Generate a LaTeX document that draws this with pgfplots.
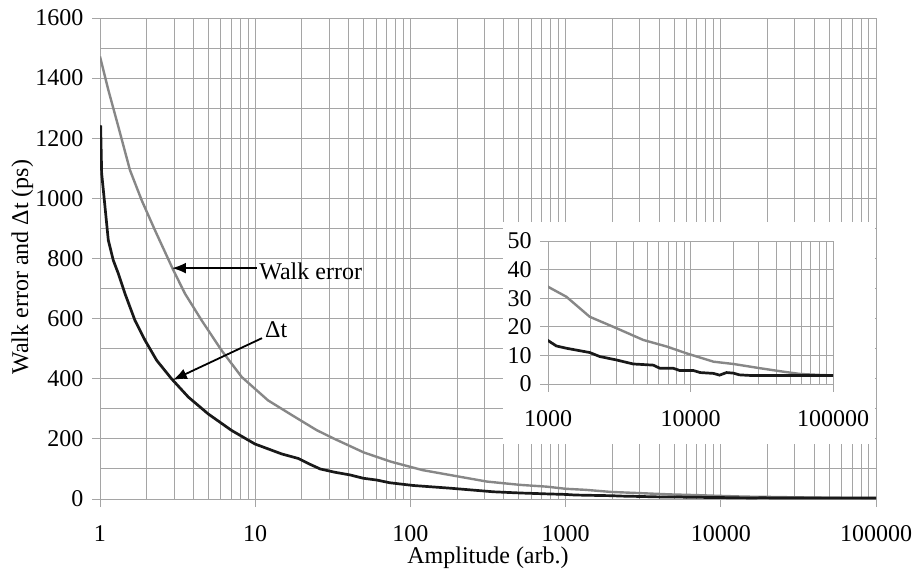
\documentclass[border=0pt]{standalone}
\usepackage{fontspec}
\setmainfont{Liberation Serif}
\usepackage{pgfplots}
\usepackage{pgfplotstable}
\pgfplotsset{compat=1.18}
\usetikzlibrary{arrows.meta}

\definecolor{gridgray}{RGB}{165,165,165}
\definecolor{walkgray}{RGB}{135,135,135}
\definecolor{dtblack}{RGB}{25,25,25}

% Walk error (ps) versus pulse amplitude
\pgfplotstableread{
amp val
1 1472
1.131 1361
1.312 1239
1.56 1094
1.855 994
2.26 894
2.97 761
3.53 683
4.52 594
6.08 494
8.18 406
12.1 328
17.5 277
24.9 229
31.8 202
50 155
75 124
120 96
208 74
311 58
509 47
758 41
1000 34
1346 30.5
1963 23.5
3027 19.5
4658 15.4
6808 13.1
9400 10.7
14500 7.8
20000 7.0
30900 5.5
44900 4.3
58900 3.5
86000 3.1
100000 3.0
}\walkdata

% Delta t (ps) versus pulse amplitude
\pgfplotstableread{
amp val
1 1240
1.01 1239
1.025 1083
1.077 972
1.131 861
1.218 794
1.312 750
1.449 683
1.68 594
1.95 528
2.32 461
2.89 400
3.71 339
4.98 283
7.05 228
9.96 183
14.8 150
18.9 135
22 118
26.2 100
32.6 89
40.9 80
49.7 69
60.8 63
73.7 54
104 45
180 36
342 24
509 20
758 17
1000 15.2
1144 13.3
1346 12.5
1963 11.0
2307 9.6
3027 8.4
3960 7.0
5475 6.6
6100 5.5
7570 5.5
8417 4.7
10500 4.7
11700 4.0
14500 3.7
16000 3.1
17900 4.0
20000 3.8
22000 3.2
26000 3.0
100000 3.0
}\dtdata

\begin{document}
\begin{tikzpicture}
\path[use as bounding box] (0,0) rectangle (919pt,571pt);

\begin{axis}[
  scale only axis,
  xmode=log,
  at={(100pt,72pt)}, anchor=south west,
  width=776pt, height=481pt,
  xmin=1, xmax=100000,
  ymin=0, ymax=1600,
  grid=both,
  major grid style={gridgray, line width=0.9pt},
  minor grid style={gridgray, line width=0.9pt},
  axis line style={gridgray, line width=0.9pt},
  tick style={gridgray, line width=0.9pt},
  tick align=outside,
  major tick length=8pt,
  minor tick length=0pt,
  xtick pos=bottom,
  ytick pos=left,
  xtick={1,10,100,1000,10000,100000},
  xticklabels={1,10,100,1000,10000,100000},
  ytick={0,200,400,600,800,1000,1200,1400,1600},
  yticklabels={0,200,400,600,800,1000,1200,1400,1600},
  minor ytick={100,300,500,700,900,1100,1300,1500},
  tick label style={font=\fontsize{24}{28}\selectfont, text=black},
  xticklabel style={yshift=-15pt},
  yticklabel style={xshift=-5pt},
  xlabel={Amplitude (arb.)},
  ylabel={Walk error and Δt (ps)},
  label style={font=\fontsize{24}{28}\selectfont},
  xlabel style={at={(axis description cs:0.5,-0.123)}, anchor=center},
  ylabel style={at={(axis description cs:-0.100,0.482)}, anchor=center},
]
\addplot[walkgray, line width=2.4pt] table[x=amp, y=val] {\walkdata};
\addplot[dtblack, line width=2.7pt] table[x=amp, y=val] {\dtdata};

% white backdrop for the zoomed inset
\fill[white] (rel axis cs:0.5193,0.1143) rectangle (rel axis cs:0.9985,0.5759);

% annotations
\draw[black, line width=1.8pt, -{Latex[length=14pt,width=11pt]}]
  (axis cs:10.27,768) -- (axis cs:2.91,768);
\node[anchor=west, font=\fontsize{24}{28}\selectfont, inner sep=0pt]
  at (axis cs:10.6,758) {Walk error};
\draw[black, line width=1.8pt, -{Latex[length=14pt,width=11pt]}]
  (axis cs:11.06,535) -- (axis cs:2.95,396);
\node[anchor=west, font=\fontsize{24}{28}\selectfont, inner sep=0pt]
  at (axis cs:11.57,562) {Δt};
\end{axis}

\begin{axis}[
  scale only axis,
  xmode=log,
  at={(548pt,187pt)}, anchor=south west,
  width=285pt, height=143pt,
  xmin=1000, xmax=100000,
  ymin=0, ymax=50,
  xminorgrids=true, xmajorgrids=true, ymajorgrids=true,
  major grid style={gridgray, line width=0.9pt},
  minor grid style={gridgray, line width=0.9pt},
  axis line style={gridgray, line width=0.9pt},
  tick style={gridgray, line width=0.9pt},
  tick align=outside,
  major tick length=8pt,
  minor tick length=0pt,
  xtick pos=bottom,
  ytick pos=left,
  xtick={1000,10000,100000},
  xticklabels={1000,10000,100000},
  ytick={0,10,20,30,40,50},
  yticklabels={0,10,20,30,40,50},
  tick label style={font=\fontsize{24}{28}\selectfont, text=black},
  xticklabel style={yshift=-15pt},
  yticklabel style={xshift=-5pt},
]
\addplot[walkgray, line width=2.4pt] table[x=amp, y=val] {\walkdata};
\addplot[dtblack, line width=2.7pt] table[x=amp, y=val] {\dtdata};
\end{axis}
\end{tikzpicture}
\end{document}
